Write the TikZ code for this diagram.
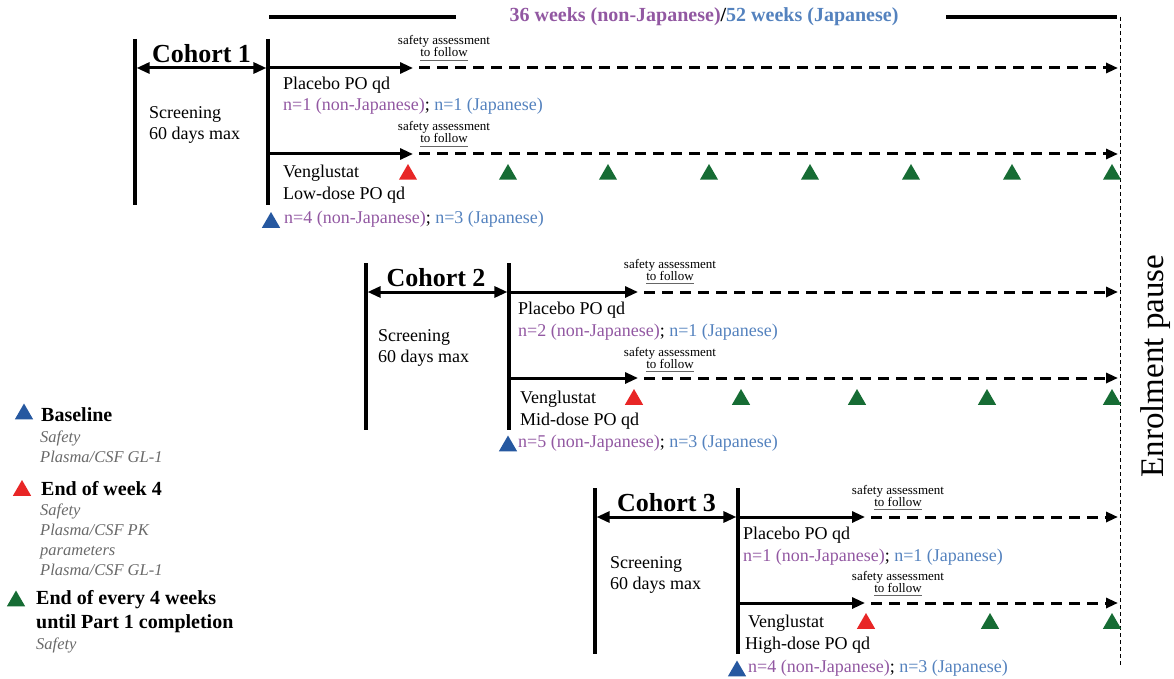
\documentclass[tikz,border=0pt]{standalone}
\usepackage{fontspec}
\setmainfont{Liberation Serif}
\usetikzlibrary{arrows.meta,shapes.geometric}
\definecolor{purp}{RGB}{146,88,162}
\definecolor{jblue}{RGB}{84,130,190}
\definecolor{tblue}{RGB}{38,88,160}
\definecolor{tred}{RGB}{232,38,38}
\definecolor{tgreen}{RGB}{22,108,52}
\definecolor{igrey}{RGB}{105,105,105}
\newcommand{\ncount}[2]{{\color{purp}#1 (non-Japanese)}; {\color{jblue}#2 (Japanese)}}
\begin{document}
\begin{tikzpicture}[x=1pt,y=-1pt,
 vbar/.style={line width=3.3pt},
 solidarm/.style={line width=3pt,-{Triangle[length=13pt,width=11pt]}},
 dasharm/.style={line width=3pt,dash pattern=on 11pt off 7pt,-{Triangle[length=12pt,width=10pt]}},
 spanarrow/.style={line width=3pt,{Triangle[length=13pt,width=11pt]}-{Triangle[length=13pt,width=11pt]},shorten <=1.6pt,shorten >=1.6pt},
 topbar/.style={line width=4.5pt},
 txt/.style={anchor=base west,inner sep=0pt,font=\fontsize{18}{22}\selectfont},
 smalltxt/.style={anchor=base,inner sep=0pt,font=\fontsize{13}{15}\selectfont},
 uline/.style={line width=0.8pt,black!60},
 coh/.style={anchor=base,inner sep=0pt,font=\bfseries\fontsize{26}{30}\selectfont},
 tri/.style={regular polygon,regular polygon sides=3,minimum size=21pt,inner sep=0pt,draw=none},
 legbold/.style={anchor=base west,inner sep=0pt,font=\bfseries\fontsize{20}{24}\selectfont},
 legit/.style={anchor=base west,inner sep=0pt,text=igrey,font=\itshape\fontsize{16.5}{20}\selectfont},
 pausedash/.style={line width=0.8pt,dash pattern=on 4pt off 3pt}
]
\useasboundingbox (0,0) rectangle (1174,679);

% ---------- header ----------
\coordinate (hb1a) at (269,17); \coordinate (hb1b) at (456,17);
\coordinate (hb2a) at (946,17); \coordinate (hb2b) at (1117,17);
\draw[topbar] (hb1a) -- (hb1b);
\draw[topbar] (hb2a) -- (hb2b);
\node[anchor=base,inner sep=0pt,font=\bfseries\fontsize{20}{24}\selectfont] (hdr) at (704,22)
  {{\color{purp}36 weeks (non-Japanese)}/{\color{jblue}52 weeks (Japanese)}};

% ---------- enrolment pause ----------
\coordinate (vtop) at (1120,17); \coordinate (vbot) at (1120,665);
\draw[pausedash] (vtop) -- (vbot);
\node[rotate=90,inner sep=0pt,font=\fontsize{33}{38}\selectfont] (pause) at (1156,366) {Enrolment pause};

% ---------- cohort 1 ----------
\coordinate (c1Lt) at (135,39); \coordinate (c1Lb) at (135,205);
\coordinate (c1Rt) at (268,39); \coordinate (c1Rb) at (268,205);
\draw[vbar] (c1Lt) -- (c1Lb);
\draw[vbar] (c1Rt) -- (c1Rb);
\coordinate (c1La) at (135,68); \coordinate (c1Ra) at (268,68);
\draw[spanarrow] (c1La) -- (c1Ra);
\node[coh] (c1lab) at (201.5,63) {Cohort 1};
\node[txt] (c1s1) at (149,119) {Screening};
\node[txt] (c1s2) at (149,140) {60 days max};
% placebo arm
\coordinate (c1pt) at (413,68); \coordinate (c1pd) at (419,68); \coordinate (c1pe) at (1118,68);
\draw[solidarm] (c1Ra) -- (c1pt);
\draw[dasharm] (c1pd) -- (c1pe);
\node[smalltxt] (c1pa) at (444,45) {safety assessment};
\node[smalltxt] (c1pf) at (444,57) {to follow};
\draw[uline] ([yshift=-3.5pt]c1pf.base west) -- ([yshift=-3.5pt]c1pf.base east);
\node[txt] (c1plc) at (283,90) {Placebo PO qd};
\node[txt] (c1pn) at (283,111) {\ncount{n=1}{n=1}};
% venglustat arm
\coordinate (c1v0) at (268,154); \coordinate (c1vt) at (413,154); \coordinate (c1vd) at (419,154); \coordinate (c1ve) at (1118,154);
\draw[solidarm] (c1v0) -- (c1vt);
\draw[dasharm] (c1vd) -- (c1ve);
\node[smalltxt] (c1va) at (444,131) {safety assessment};
\node[smalltxt] (c1vf) at (444,143) {to follow};
\draw[uline] ([yshift=-3.5pt]c1vf.base west) -- ([yshift=-3.5pt]c1vf.base east);
\node[txt] (c1vn1) at (283,178) {Venglustat};
\node[txt] (c1vn2) at (283,200) {Low-dose PO qd};
\node[txt] (c1vn) at (284,223) {\ncount{n=4}{n=3}};
\node[tri,fill=tblue] (c1b) at (271,222.5) {};
\node[tri,fill=tred] (c1r) at (408,174.5) {};
\foreach \x [count=\i] in {508,608,709,810,911,1012,1112}
  \node[tri,fill=tgreen] (c1g\i) at (\x,174.5) {};

% ---------- cohort 2 ----------
\coordinate (c2Lt) at (366,263); \coordinate (c2Lb) at (366,430);
\coordinate (c2Rt) at (509,263); \coordinate (c2Rb) at (509,430);
\draw[vbar] (c2Lt) -- (c2Lb);
\draw[vbar] (c2Rt) -- (c2Rb);
\coordinate (c2La) at (366,292); \coordinate (c2Ra) at (509,292);
\draw[spanarrow] (c2La) -- (c2Ra);
\node[coh] (c2lab) at (436,286) {Cohort 2};
\node[txt] (c2s1) at (378,341) {Screening};
\node[txt] (c2s2) at (378,362) {60 days max};
\coordinate (c2pt) at (638,292); \coordinate (c2pd) at (644,292); \coordinate (c2pe) at (1118,292);
\draw[solidarm] (c2Ra) -- (c2pt);
\draw[dasharm] (c2pd) -- (c2pe);
\node[smalltxt] (c2pa) at (670,268) {safety assessment};
\node[smalltxt] (c2pf) at (670,280) {to follow};
\draw[uline] ([yshift=-3.5pt]c2pf.base west) -- ([yshift=-3.5pt]c2pf.base east);
\node[txt] (c2plc) at (518,314) {Placebo PO qd};
\node[txt] (c2pn) at (518,336) {\ncount{n=2}{n=1}};
\coordinate (c2v0) at (509,378); \coordinate (c2vt) at (638,378); \coordinate (c2vd) at (644,378); \coordinate (c2ve) at (1118,378);
\draw[solidarm] (c2v0) -- (c2vt);
\draw[dasharm] (c2vd) -- (c2ve);
\node[smalltxt] (c2va) at (670,356) {safety assessment};
\node[smalltxt] (c2vf) at (670,368) {to follow};
\draw[uline] ([yshift=-3.5pt]c2vf.base west) -- ([yshift=-3.5pt]c2vf.base east);
\node[txt] (c2vn1) at (520,403) {Venglustat};
\node[txt] (c2vn2) at (520,425) {Mid-dose PO qd};
\node[txt] (c2vn) at (518,447) {\ncount{n=5}{n=3}};
\node[tri,fill=tblue] (c2b) at (508,446) {};
\node[tri,fill=tred] (c2r) at (634,399.5) {};
\foreach \x [count=\i] in {741,857,987,1112}
  \node[tri,fill=tgreen] (c2g\i) at (\x,399.5) {};

% ---------- cohort 3 ----------
\coordinate (c3Lt) at (595,488); \coordinate (c3Lb) at (595,654);
\coordinate (c3Rt) at (738,488); \coordinate (c3Rb) at (738,654);
\draw[vbar] (c3Lt) -- (c3Lb);
\draw[vbar] (c3Rt) -- (c3Rb);
\coordinate (c3La) at (595,517); \coordinate (c3Ra) at (738,517);
\draw[spanarrow] (c3La) -- (c3Ra);
\node[coh] (c3lab) at (666.5,511) {Cohort 3};
\node[txt] (c3s1) at (610,568) {Screening};
\node[txt] (c3s2) at (610,589) {60 days max};
\coordinate (c3pt) at (865,517); \coordinate (c3pd) at (871,517); \coordinate (c3pe) at (1118,517);
\draw[solidarm] (c3Ra) -- (c3pt);
\draw[dasharm] (c3pd) -- (c3pe);
\node[smalltxt] (c3pa) at (898,494) {safety assessment};
\node[smalltxt] (c3pf) at (898,506) {to follow};
\draw[uline] ([yshift=-3.5pt]c3pf.base west) -- ([yshift=-3.5pt]c3pf.base east);
\node[txt] (c3plc) at (743,539) {Placebo PO qd};
\node[txt] (c3pn) at (743,561) {\ncount{n=1}{n=1}};
\coordinate (c3v0) at (738,603); \coordinate (c3vt) at (865,603); \coordinate (c3vd) at (871,603); \coordinate (c3ve) at (1118,603);
\draw[solidarm] (c3v0) -- (c3vt);
\draw[dasharm] (c3vd) -- (c3ve);
\node[smalltxt] (c3va) at (898,580) {safety assessment};
\node[smalltxt] (c3vf) at (898,592) {to follow};
\draw[uline] ([yshift=-3.5pt]c3vf.base west) -- ([yshift=-3.5pt]c3vf.base east);
\node[txt] (c3vn1) at (748,627) {Venglustat};
\node[txt] (c3vn2) at (745,649) {High-dose PO qd};
\node[txt] (c3vn) at (748,672) {\ncount{n=4}{n=3}};
\node[tri,fill=tblue] (c3b) at (737,671) {};
\node[tri,fill=tred] (c3r) at (866,623.5) {};
\foreach \x [count=\i] in {990,1112}
  \node[tri,fill=tgreen] (c3g\i) at (\x,623.5) {};

% ---------- legend ----------
\node[tri,fill=tblue] (lb) at (24,414) {};
\node[legbold] (lbt) at (41,421) {Baseline};
\node[legit] (lb1) at (40,442) {Safety};
\node[legit] (lb2) at (40,462) {Plasma/CSF GL-1};
\node[tri,fill=tred] (lr) at (22,490.5) {};
\node[legbold] (lrt) at (41,495) {End of week 4};
\node[legit] (lr1) at (40,515) {Safety};
\node[legit] (lr2) at (40,535) {Plasma/CSF PK};
\node[legit] (lr3) at (40,555) {parameters};
\node[legit] (lr4) at (40,575) {Plasma/CSF GL-1};
\node[tri,fill=tgreen] (lg) at (16,601) {};
\node[legbold] (lgt) at (36,604) {End of every 4 weeks};
\node[legbold] (lgt2) at (36,628) {until Part 1 completion};
\node[legit] (lg1) at (36,649) {Safety};
\end{tikzpicture}
\end{document}
